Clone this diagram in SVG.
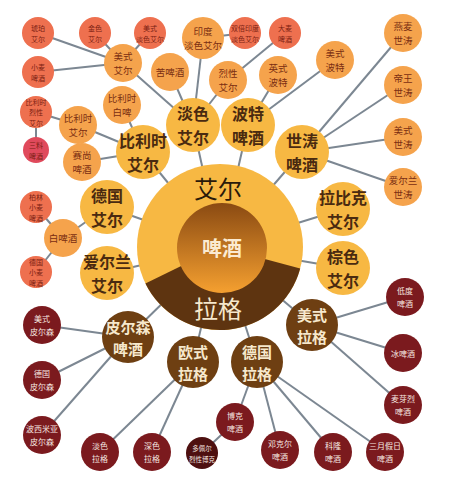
<svg xmlns="http://www.w3.org/2000/svg" width="450" height="487" viewBox="0 0 450 487">
<defs>
<linearGradient id="inner" x1="0" y1="0" x2="0" y2="1">
<stop offset="0" stop-color="#8A4A12"/>
<stop offset="1" stop-color="#F5A030"/>
</linearGradient>
<style>
text{font-family:"Noto Sans CJK SC","Noto Sans CJK TC",sans-serif;text-anchor:middle;dominant-baseline:central}
.edge line{stroke:#7C8792;stroke-width:2}
.y circle{fill:#F7B843}.y text{fill:#4A2A10;font-size:16px;font-weight:bold}
.o circle{fill:#F5A34C}.o text{fill:#7A2E12;font-size:9.5px}
.r circle{fill:#EE704F}.r text{fill:#7A1E12;font-size:7px}
.p circle{fill:#E04A5C}.p text{fill:#7A1E12;font-size:7px}
.b circle{fill:#6E3F12}.b text{fill:#F6E8CC;font-size:15px;font-weight:bold}
.d circle{fill:#7B1A1E}.d text{fill:#F6E8E0;font-size:8px}
.dd circle{fill:#4E1010}.dd text{fill:#F6E8E0;font-size:6.5px}
</style>
</defs>
<rect width="450" height="487" fill="#FFFFFF"/>
<g class="edge">
<line x1="220" y1="247" x2="193" y2="125"/><line x1="220" y1="247" x2="248" y2="125"/>
<line x1="220" y1="247" x2="143" y2="152"/><line x1="220" y1="247" x2="302" y2="152"/>
<line x1="220" y1="247" x2="107" y2="207"/><line x1="220" y1="247" x2="343" y2="209"/>
<line x1="220" y1="247" x2="107" y2="273"/><line x1="220" y1="247" x2="343" y2="268"/>
<line x1="220" y1="247" x2="128" y2="337"/><line x1="220" y1="247" x2="193" y2="362"/>
<line x1="220" y1="247" x2="257" y2="362"/><line x1="220" y1="247" x2="312" y2="325"/>
<line x1="123" y1="63" x2="38" y2="33"/><line x1="123" y1="63" x2="95" y2="33"/>
<line x1="123" y1="63" x2="150" y2="33"/><line x1="123" y1="63" x2="38" y2="72"/>
<line x1="123" y1="63" x2="193" y2="125"/>
<line x1="193" y1="125" x2="170" y2="72"/><line x1="193" y1="125" x2="203" y2="38"/>
<line x1="193" y1="125" x2="228" y2="80"/><line x1="203" y1="38" x2="245" y2="33"/>
<line x1="228" y1="80" x2="285" y2="33"/>
<line x1="248" y1="125" x2="278" y2="75"/><line x1="248" y1="125" x2="335" y2="60"/>
<line x1="302" y1="152" x2="403" y2="33"/><line x1="302" y1="152" x2="403" y2="85"/>
<line x1="302" y1="152" x2="403" y2="137"/><line x1="302" y1="152" x2="403" y2="187"/>
<line x1="143" y1="152" x2="122" y2="105"/><line x1="143" y1="152" x2="78" y2="125"/>
<line x1="143" y1="152" x2="82" y2="162"/><line x1="78" y1="125" x2="36" y2="112"/>
<line x1="36" y1="112" x2="36" y2="150"/>
<line x1="107" y1="207" x2="63" y2="238"/><line x1="63" y1="238" x2="36" y2="207"/>
<line x1="63" y1="238" x2="36" y2="272"/>
<line x1="128" y1="337" x2="42" y2="325"/><line x1="128" y1="337" x2="42" y2="380"/>
<line x1="128" y1="337" x2="42" y2="435"/>
<line x1="193" y1="362" x2="100" y2="452"/><line x1="193" y1="362" x2="152" y2="452"/>
<line x1="257" y1="362" x2="235" y2="422"/><line x1="257" y1="362" x2="280" y2="450"/>
<line x1="257" y1="362" x2="333" y2="452"/><line x1="257" y1="362" x2="385" y2="452"/>
<line x1="235" y1="422" x2="202" y2="453"/>
<line x1="312" y1="325" x2="405" y2="297"/><line x1="312" y1="325" x2="403" y2="353"/>
<line x1="312" y1="325" x2="403" y2="405"/>
</g>
<g id="center">
<circle cx="220" cy="247" r="83" fill="#F7B843"/>
<path d="M220 247 L145.4 283.4 A83 83 0 0 0 300.2 268.5 Z" fill="#5E3410"/>
<circle cx="222" cy="248" r="45" fill="url(#inner)"/>
<text x="218" y="187" font-size="24" fill="#2A1A0A">艾尔</text>
<text x="222" y="247" font-size="20" fill="#FBEBD2" font-weight="bold">啤酒</text>
<text x="218" y="307" font-size="24" fill="#F6E8CC">拉格</text>
</g>
<g id="n-danse" class="y"><circle cx="193" cy="125" r="27"/><text x="193" y="113">淡色</text><text x="193" y="137">艾尔</text></g>
<g id="n-bote" class="y"><circle cx="248" cy="125" r="27"/><text x="248" y="113">波特</text><text x="248" y="137">啤酒</text></g>
<g id="n-bilishi" class="y"><circle cx="143" cy="152" r="27"/><text x="143" y="140">比利时</text><text x="143" y="164">艾尔</text></g>
<g id="n-shitao" class="y"><circle cx="302" cy="152" r="27"/><text x="302" y="140">世涛</text><text x="302" y="164">啤酒</text></g>
<g id="n-deguo-ale" class="y"><circle cx="107" cy="207" r="27"/><text x="107" y="195">德国</text><text x="107" y="219">艾尔</text></g>
<g id="n-labike" class="y"><circle cx="343" cy="209" r="27"/><text x="343" y="197">拉比克</text><text x="343" y="221">艾尔</text></g>
<g id="n-aierlan" class="y"><circle cx="107" cy="273" r="27"/><text x="107" y="261">爱尔兰</text><text x="107" y="285">艾尔</text></g>
<g id="n-zongse" class="y"><circle cx="343" cy="268" r="27"/><text x="343" y="256">棕色</text><text x="343" y="280">艾尔</text></g>

<g id="n-meishi-ale" class="o"><circle cx="123" cy="63" r="19"/><text x="123" y="56">美式</text><text x="123" y="70">艾尔</text></g>
<g id="n-bls-baipi" class="o"><circle cx="122" cy="105" r="19"/><text x="122" y="98">比利时</text><text x="122" y="112">白啤</text></g>
<g id="n-bls-ale-s" class="o"><circle cx="78" cy="125" r="19"/><text x="78" y="118">比利时</text><text x="78" y="132">艾尔</text></g>
<g id="n-saishang" class="o"><circle cx="82" cy="162" r="19"/><text x="82" y="155">赛尚</text><text x="82" y="169">啤酒</text></g>
<g id="n-kupi" class="o"><circle cx="170" cy="72" r="19"/><text x="170" y="72">苦啤酒</text></g>
<g id="n-ipa" class="o"><circle cx="203" cy="38" r="21"/><text x="203" y="31">印度</text><text x="203" y="45">淡色艾尔</text></g>
<g id="n-liexing" class="o"><circle cx="228" cy="80" r="19"/><text x="228" y="73">烈性</text><text x="228" y="87">艾尔</text></g>
<g id="n-yingshi-bote" class="o"><circle cx="278" cy="75" r="19"/><text x="278" y="68">英式</text><text x="278" y="82">波特</text></g>
<g id="n-meishi-bote" class="o"><circle cx="335" cy="60" r="19"/><text x="335" y="53">美式</text><text x="335" y="67">波特</text></g>
<g id="n-yanmai" class="o"><circle cx="403" cy="33" r="19"/><text x="403" y="26">燕麦</text><text x="403" y="40">世涛</text></g>
<g id="n-diwang" class="o"><circle cx="403" cy="85" r="19"/><text x="403" y="78">帝王</text><text x="403" y="92">世涛</text></g>
<g id="n-meishi-st" class="o"><circle cx="403" cy="137" r="19"/><text x="403" y="130">美式</text><text x="403" y="144">世涛</text></g>
<g id="n-aierlan-st" class="o"><circle cx="403" cy="187" r="19"/><text x="403" y="180">爱尔兰</text><text x="403" y="194">世涛</text></g>
<g id="n-baipijiu" class="o"><circle cx="63" cy="238" r="19"/><text x="63" y="238">白啤酒</text></g>

<g id="n-hupo" class="r"><circle cx="38" cy="33" r="16"/><text x="38" y="27.5">琥珀</text><text x="38" y="38.5">艾尔</text></g>
<g id="n-jinse" class="r"><circle cx="95" cy="33" r="16"/><text x="95" y="27.5">金色</text><text x="95" y="38.5">艾尔</text></g>
<g id="n-apa" class="r"><circle cx="150" cy="33" r="16"/><text x="150" y="27.5">美式</text><text x="150" y="38.5">淡色艾尔</text></g>
<g id="n-xiaomai" class="r"><circle cx="38" cy="72" r="16"/><text x="38" y="66.5">小麦</text><text x="38" y="77.5">啤酒</text></g>
<g id="n-bls-liexing" class="r"><circle cx="36" cy="112" r="16"/><text x="36" y="101.5">比利时</text><text x="36" y="112">烈性</text><text x="36" y="122.5">艾尔</text></g>
<g id="n-dipa" class="r"><circle cx="245" cy="33" r="16"/><text x="245" y="27.5">双倍印度</text><text x="245" y="38.5">淡色艾尔</text></g>
<g id="n-damai" class="r"><circle cx="285" cy="33" r="16"/><text x="285" y="27.5">大麦</text><text x="285" y="38.5">啤酒</text></g>
<g id="n-bolin" class="r"><circle cx="36" cy="207" r="16"/><text x="36" y="196.5">柏林</text><text x="36" y="207">小麦</text><text x="36" y="217.5">啤酒</text></g>
<g id="n-dg-xiaomai" class="r"><circle cx="36" cy="272" r="16"/><text x="36" y="261.5">德国</text><text x="36" y="272">小麦</text><text x="36" y="282.5">啤酒</text></g>
<g id="n-sanliao" class="p"><circle cx="36" cy="150" r="13"/><text x="36" y="144.5">三料</text><text x="36" y="155.5">啤酒</text></g>

<g id="n-pilsen" class="b"><circle cx="128" cy="337" r="26"/><text x="128" y="326">皮尔森</text><text x="128" y="348">啤酒</text></g>
<g id="n-oushi" class="b"><circle cx="193" cy="362" r="26"/><text x="193" y="351">欧式</text><text x="193" y="373">拉格</text></g>
<g id="n-deguo-lager" class="b"><circle cx="257" cy="362" r="26"/><text x="257" y="351">德国</text><text x="257" y="373">拉格</text></g>
<g id="n-meishi-lager" class="b"><circle cx="312" cy="325" r="26"/><text x="312" y="314">美式</text><text x="312" y="336">拉格</text></g>

<g id="n-ms-pilsen" class="d"><circle cx="42" cy="325" r="19"/><text x="42" y="318.5">美式</text><text x="42" y="331.5">皮尔森</text></g>
<g id="n-dg-pilsen" class="d"><circle cx="42" cy="380" r="19"/><text x="42" y="373.5">德国</text><text x="42" y="386.5">皮尔森</text></g>
<g id="n-bx-pilsen" class="d"><circle cx="42" cy="435" r="19"/><text x="42" y="428.5">波西米亚</text><text x="42" y="441.5">皮尔森</text></g>
<g id="n-danse-lager" class="d"><circle cx="100" cy="452" r="19"/><text x="100" y="445.5">淡色</text><text x="100" y="458.5">拉格</text></g>
<g id="n-shense-lager" class="d"><circle cx="152" cy="452" r="19"/><text x="152" y="445.5">深色</text><text x="152" y="458.5">拉格</text></g>
<g id="n-boke" class="d"><circle cx="235" cy="422" r="19"/><text x="235" y="415.5">博克</text><text x="235" y="428.5">啤酒</text></g>
<g id="n-dengke" class="d"><circle cx="280" cy="450" r="19"/><text x="280" y="443.5">邓克尔</text><text x="280" y="456.5">啤酒</text></g>
<g id="n-kelong" class="d"><circle cx="333" cy="452" r="19"/><text x="333" y="445.5">科隆</text><text x="333" y="458.5">啤酒</text></g>
<g id="n-sanyue" class="d"><circle cx="385" cy="452" r="19"/><text x="385" y="445.5">三月假日</text><text x="385" y="458.5">啤酒</text></g>
<g id="n-didu" class="d"><circle cx="405" cy="297" r="19"/><text x="405" y="290.5">低度</text><text x="405" y="303.5">啤酒</text></g>
<g id="n-bing" class="d"><circle cx="403" cy="353" r="19"/><text x="403" y="353">冰啤酒</text></g>
<g id="n-maiya" class="d"><circle cx="403" cy="405" r="19"/><text x="403" y="398.5">麦芽烈</text><text x="403" y="411.5">啤酒</text></g>
<g id="n-duopeier" class="dd"><circle cx="202" cy="453" r="16"/><text x="202" y="447.5">多佩尔</text><text x="202" y="458.5">烈性博克</text></g>
</svg>
